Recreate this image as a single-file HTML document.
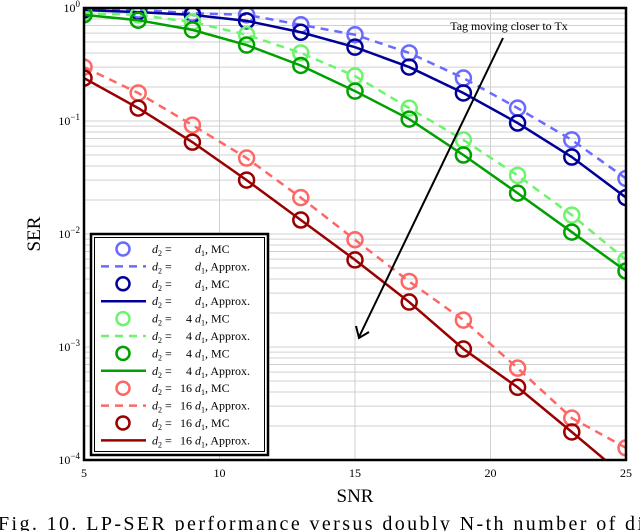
<!DOCTYPE html>
<html><head><meta charset="utf-8">
<style>
html,body{margin:0;padding:0;background:#fff;}
svg{display:block;font-family:"Liberation Serif",serif;}
</style></head>
<body>
<svg id="chart" width="640" height="531" viewBox="0 0 640 531" xmlns="http://www.w3.org/2000/svg">
<defs><clipPath id="plotclip"><rect x="84" y="8" width="542" height="452"/></clipPath></defs>
<g id="grid"></g>
<g id="series" clip-path="url(#plotclip)"></g>
<rect x="84" y="8" width="542" height="452" fill="none" stroke="#000" stroke-width="2.5"/>
<g id="ticks" font-size="12"></g>
<text x="40" y="234" font-size="19" text-anchor="middle" transform="rotate(-90 40 234)">SER</text>
<text x="355" y="502" font-size="19" text-anchor="middle">SNR</text>
<text x="509" y="30" font-size="12" text-anchor="middle">Tag moving closer to Tx</text>
<line x1="503" y1="38" x2="359" y2="337" stroke="#000" stroke-width="2"/>
<polyline points="356,326 359,338 369,332" fill="none" stroke="#000" stroke-width="2"/>
<g id="legend"></g>
<text x="-2" y="530" font-size="20" textLength="645" lengthAdjust="spacing">Fig. 10.  LP-SER performance versus doubly N-th number of di</text>
</svg>
<script>
const snr = [5,7,9,11,13,15,17,19,21,23,25];
const lightBlueMC = [1,.96,.90,.87,.71,.58,.40,.24,.13,.068,.031];
const darkBlueMC = [.96,.92,.87,.77,.61,.45,.30,.177,.096,.048,.021];
const lightGreenMC = [.90,.87,.75,.58,.40,.25,.13,.068,.033,.0147,.0059];
const darkGreenMC = [.87,.78,.64,.47,.31,.184,.104,.050,.023,.0104,.0047];
const lightRedMC = [.30,.177,.092,.047,.021,.0089,.0038,.00173,.00065,.000235,.000128];
const darkRedMC = [.24,.13,.065,.030,.0133,.0059,.0025,.00096,.00044,.000177,.00007];
const xTicks = [5,10,15,20,25];
const yDecades = [0,-1,-2,-3,-4];
const legendCoefs = ['','','4','4','16','16'];

const NS='http://www.w3.org/2000/svg';
function X(v){return 84+(v-5)*(542/20);}
function Y(v){return 8+(-Math.log10(v))*113;}
function mk(tag,attrs,parent){const e=document.createElementNS(NS,tag);for(const k in attrs)e.setAttribute(k,attrs[k]);parent.appendChild(e);return e;}

const grid=document.getElementById('grid');
xTicks.slice(1,-1).forEach(t=>{
  const l=mk('line',{x1:X(t),x2:X(t),y1:8,y2:460,stroke:'#d0d0d0','stroke-width':1},grid);
  
  
});
for(let d=-4;d<0;d++){
  for(let m=1;m<10;m++){
    const y=Y(m*Math.pow(10,d));
    const l=mk('line',{x1:84,x2:626,y1:y,y2:y,stroke:'#d0d0d0','stroke-width':1},grid);
    
    
  }
}
const ticks=document.getElementById('ticks');
xTicks.forEach(t=>{
  const tx=mk('text',{x:X(t),y:477,'text-anchor':'middle'},ticks);
  tx.textContent=t;
  
  
});
yDecades.forEach(d=>{
  const tx=mk('text',{x:80,y:Y(Math.pow(10,d))+4,'text-anchor':'end'},ticks);
  
  
  tx.textContent='10';
  const s=mk('tspan',{dy:-5,'font-size':9},tx);
  s.textContent=d===0?'0':'\u2212'+(-d);
});

const seriesDefs=[
 {data:lightBlueMC,color:'#6a6aff',dash:true,name:'light-blue'},
 {data:darkBlueMC,color:'#000099',dash:false,name:'dark-blue'},
 {data:lightGreenMC,color:'#6cf56c',dash:true,name:'light-green'},
 {data:darkGreenMC,color:'#00a000',dash:false,name:'dark-green'},
 {data:lightRedMC,color:'#ff6666',dash:true,name:'light-red'},
 {data:darkRedMC,color:'#990000',dash:false,name:'dark-red'}
];
const sg=document.getElementById('series');
seriesDefs.forEach(s=>{
  const pts=s.data.map((v,i)=>X(snr[i])+','+Y(v)).join(' ');
  const pl=mk('polyline',{points:pts,fill:'none',stroke:s.color,'stroke-width':2.5},sg);
  if(s.dash)pl.setAttribute('stroke-dasharray','8,6');
  
  
  s.data.forEach((v,i)=>{
    const c=mk('circle',{cx:X(snr[i]),cy:Y(v),r:7.5,fill:'none',stroke:s.color,'stroke-width':2.5},sg);
    
    
  });
});

const lg=document.getElementById('legend');
const box=mk('rect',{x:91,y:234,width:177,height:221,fill:'#fff',stroke:'#000','stroke-width':2.5},lg);


const box2=mk('rect',{x:94.5,y:237.5,width:170,height:214,fill:'none',stroke:'#000','stroke-width':1},lg);


seriesDefs.forEach((s,k)=>{
  for(let j=0;j<2;j++){
    const y=249+(k*2+j)*17.4;
    if(j===0){
      const c=mk('circle',{cx:123,cy:y,r:6.5,fill:'none',stroke:s.color,'stroke-width':2.5},lg);
      
      
    } else {
      const l=mk('line',{x1:101,x2:146,y1:y,y2:y,stroke:s.color,'stroke-width':2.5},lg);
      if(s.dash)l.setAttribute('stroke-dasharray','8,6');
      
      
    }
    const t1=mk('text',{x:152,y:y+4,'font-size':12},lg);
    
    
    t1.innerHTML='<tspan font-style="italic">d</tspan><tspan font-size="8" dy="3">2</tspan><tspan dy="-3"> =</tspan>';
    if(legendCoefs[k]){
      const t2=mk('text',{x:192,y:y+4,'font-size':12,'text-anchor':'end'},lg);
      
      
      t2.textContent=legendCoefs[k];
    }
    const t3=mk('text',{x:195,y:y+4,'font-size':12},lg);
    
    
    t3.innerHTML='<tspan font-style="italic">d</tspan><tspan font-size="8" dy="3">1</tspan><tspan dy="-3">, '+(j===0?'MC':'Approx.')+'</tspan>';
  }
});
</script>
</body></html>
